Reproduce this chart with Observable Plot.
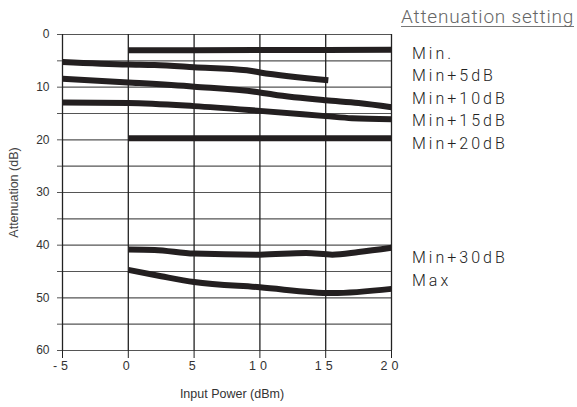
<!DOCTYPE html>
<html>
<head>
<meta charset="utf-8">
<script src="https://cdn.jsdelivr.net/npm/d3@7"></script>
<script src="https://cdn.jsdelivr.net/npm/@observablehq/plot@0.6"></script>
<style>
  html, body { margin: 0; padding: 0; background: #fff; }
  #wrap { position: relative; width: 577px; height: 407px; overflow: hidden; }
  #legend-title {
    position: absolute; left: 401px; top: 6.5px;
    font-family: Roboto, "Liberation Sans", sans-serif; font-weight: 300;
    font-size: 19px; line-height: 1; color: #666; letter-spacing: 0.8px;
    border-bottom: 1px solid #777; white-space: nowrap;
  }
  #legend {
    position: absolute; left: 412px; top: 42.5px;
    font-family: Roboto, "Liberation Sans", sans-serif; font-weight: 300;
    font-size: 16px; line-height: 22.6px; letter-spacing: 3px; color: #222;
    white-space: nowrap;
  }
  #legend .gap { margin-top: 92px; }
  .xaxis text { letter-spacing: 4px; }
</style>
</head>
<body>
<div id="wrap">
  <div id="chart"></div>
  <div id="legend-title"></div>
  <div id="legend"></div>
</div>
<script>
// ---- data ----
const seriesNames = ["Min.", "Min+5dB", "Min+10dB", "Min+15dB", "Min+20dB", "Min+30dB", "Max"];

const minX   = [0, 10, 20];
const minY   = [3.0, 2.95, 2.9];

const min5X  = [-5, 0, 2, 5, 9, 10, 15.2];
const min5Y  = [5.2, 5.7, 5.8, 6.2, 6.8, 7.2, 8.7];

const min10X = [-5, 0, 5, 10, 11, 15, 17.5, 20];
const min10Y = [8.4, 9.1, 9.9, 11.0, 11.4, 12.5, 13.0, 13.8];

const min15X = [-5, 0, 5, 10, 15, 17, 20];
const min15Y = [12.9, 13.0, 13.6, 14.5, 15.5, 15.9, 16.1];

const min20X = [0, 20];
const min20Y = [19.7, 19.7];

const min30X = [0, 2, 5, 10, 13.5, 15.5, 17.5, 20];
const min30Y = [40.8, 40.9, 41.6, 41.8, 41.5, 41.8, 41.3, 40.5];

const maxX   = [0, 2.5, 5, 10, 15.5, 20];
const maxY   = [44.7, 45.9, 47.0, 48.0, 49.1, 48.3];

const xTicks = [-5, 0, 5, 10, 15, 20];
const xTickLabels = ["-5", "0", "5", "10", "15", "20"];
const yGrid = [0, 5, 10, 15, 20, 25, 30, 35, 40, 45, 50, 55, 60];
const yTickLabels = ["0", "", "10", "", "20", "", "30", "", "40", "", "50", "", "60"];

const xLabel = "Input Power (dBm)";
const yLabel = "Attenuation (dB)";
const legendTitle = "Attenuation setting";

// ---- build table ----
const allX = [minX, min5X, min10X, min15X, min20X, min30X, maxX];
const allY = [minY, min5Y, min10Y, min15Y, min20Y, min30Y, maxY];
const rows = [];
seriesNames.forEach((name, i) => {
  allX[i].forEach((x, j) => rows.push({series: name, x, y: allY[i][j]}));
});

const axisFont = '"Liberation Sans", Arial, sans-serif';

const chart = Plot.plot({
  width: 577,
  height: 407,
  marginLeft: 62,
  marginRight: 186,
  marginTop: 34,
  marginBottom: 57,
  style: {fontFamily: axisFont, color: "#333", background: "white"},
  x: {domain: [-5, 20]},
  y: {domain: [0, 60], reverse: true},
  marks: [
    Plot.ruleY(yGrid, {stroke: "#555", strokeWidth: 1.2}),
    Plot.ruleX(xTicks, {stroke: "#222", strokeWidth: 1.3}),
    Plot.axisY({
      ticks: yGrid,
      tickSize: 5,
      tickPadding: 8,
      tickFormat: (d) => yTickLabels[yGrid.indexOf(d)],
      fontSize: 12,
      stroke: "#555",
      label: null
    }),
    Plot.text([yLabel], {
      frameAnchor: "left",
      dx: -49,
      rotate: -90,
      textAnchor: "middle",
      fontSize: 12.5,
      fill: "#444",
      text: (d) => d
    }),
    Plot.axisX({
      ticks: xTicks,
      tickSize: 8,
      tickPadding: 3,
      tickFormat: (d) => xTickLabels[xTicks.indexOf(d)],
      fontSize: 12.5,
      stroke: "#222",
      className: "xaxis",
      label: null
    }),
    Plot.text([xLabel], {
      frameAnchor: "bottom",
      dy: 39,
      dx: 5,
      lineAnchor: "top",
      fontSize: 12.5,
      fill: "#333",
      text: (d) => d
    }),
    Plot.line(rows, {
      x: "x", y: "y", z: "series",
      stroke: "#231f20",
      strokeWidth: 6,
      strokeLinecap: "butt",
      curve: "monotone-x"
    })
  ]
});

document.getElementById("chart").appendChild(chart);
document.getElementById("legend-title").textContent = legendTitle;
const legend = document.getElementById("legend");
seriesNames.forEach((name) => {
  const div = document.createElement("div");
  div.textContent = name;
  if (name === "Min+30dB") div.className = "gap";
  legend.appendChild(div);
});
</script>
</body>
</html>
